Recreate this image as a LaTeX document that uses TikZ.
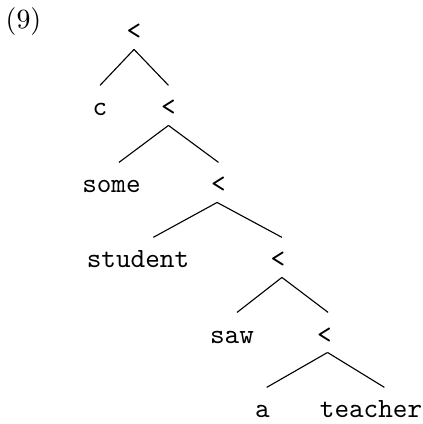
\documentclass[tikz,border=0pt]{standalone}
\usepackage{tikz}

\begin{document}
\begin{tikzpicture}[x=1cm,y=1cm,
	tok/.style={font=\ttfamily,anchor=base,text height=7.6pt,text depth=0pt,inner ysep=3.2pt},
	br/.style={thin}]
	\useasboundingbox (0,0) rectangle (5.343,-5.356);
	\node[anchor=base] (ex) at (0.297,-0.366) {(9)};
	% tree, one row per level
	\node[tok] (lt0) at (1.693,-0.505) {<};
	\node[tok] (c) at (1.263,-1.465) {c};
	\node[tok] (lt1) at (2.128,-1.465) {<};
	\node[tok] (some) at (1.408,-2.438) {some};
	\node[tok] (lt2) at (2.760,-2.438) {<};
	\node[tok] (student) at (1.743,-3.385) {student};
	\node[tok] (lt3) at (3.512,-3.385) {<};
	\node[tok] (saw) at (2.931,-4.333) {saw};
	\node[tok] (lt4) at (4.099,-4.333) {<};
	\node[tok] (a) at (3.316,-5.280) {a};
	\node[tok] (teacher) at (4.687,-5.280) {teacher};
	% branches
	\draw[br] (lt0.south) -- (c.north);
	\draw[br] (lt0.south) -- (lt1.north);
	\draw[br] (lt1.south) -- ([xshift=2.7pt]some.north);
	\draw[br] (lt1.south) -- (lt2.north);
	\draw[br] ([xshift=-0.5pt]lt2.south) -- ([xshift=5.5pt]student.north);
	\draw[br] ([xshift=-0.5pt]lt2.south) -- ([xshift=1.4pt]lt3.north);
	\draw[br] ([xshift=1.4pt]lt3.south) -- ([xshift=1.8pt]saw.north);
	\draw[br] ([xshift=1.4pt]lt3.south) -- ([xshift=1.3pt]lt4.north);
	\draw[br] ([xshift=1.1pt]lt4.south) -- ([xshift=1.5pt]a.north);
	\draw[br] ([xshift=1.1pt]lt4.south) -- ([xshift=4.8pt]teacher.north);
\end{tikzpicture}
\end{document}
